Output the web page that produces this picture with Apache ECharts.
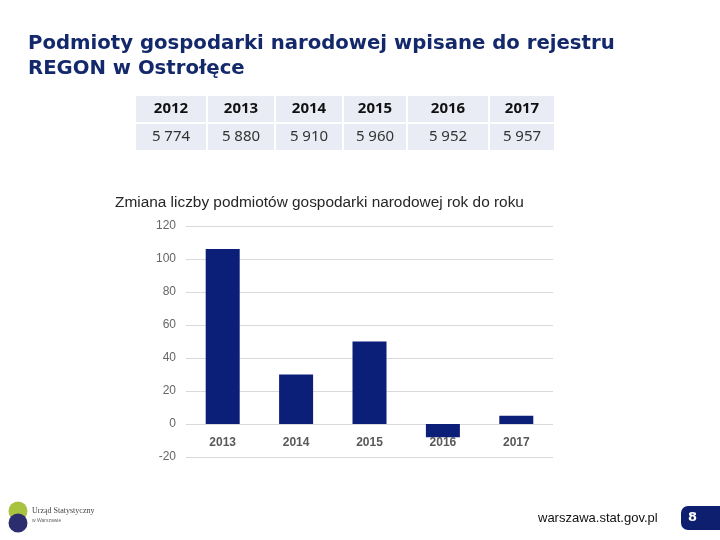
<!DOCTYPE html>
<html>
<head>
<meta charset="utf-8">
<script src="https://cdn.jsdelivr.net/npm/echarts@6/dist/echarts.min.js"></script>
<style>
html,body{margin:0;padding:0;background:#fff;}
#chart{width:720px;height:540px;}
</style>
</head>
<body>
<div id="chart"></div>
<script>
const titleLines = ['Podmioty gospodarki narodowej wpisane do rejestru', 'REGON w Ostrołęce'];
const tableYears = ['2012', '2013', '2014', '2015', '2016', '2017'];
const tableCounts = ['5 774', '5 880', '5 910', '5 960', '5 952', '5 957'];
const chartTitle = 'Zmiana liczby podmiotów gospodarki narodowej rok do roku';
const categories = ['2013', '2014', '2015', '2016', '2017'];
const changes = [106, 30, 50, -8, 5];
const footerUrl = 'warszawa.stat.gov.pl';
const pageNumber = '8';

const navy = '#0b1f78';
const colEdges = [136, 208, 276, 344, 408, 490, 556];
const rowEdges = [[96, 122], [124, 150]];

const graphics = [];
titleLines.forEach((t, i) => {
  graphics.push({type:'text', left:28, top:34 + i*25, style:{text:t, font:'bold 19.7px "DejaVu Sans"', fill:'#14296b'}});
});
for (let c = 0; c < tableYears.length; c++) {
  const x0 = colEdges[c], x1 = colEdges[c+1] - 2;
  [[tableYears[c], 'bold 15px "Noto Sans"', '#111'], [tableCounts[c], '15px "Noto Sans"', '#333']].forEach((cell, r) => {
    const [y0, y1] = rowEdges[r];
    graphics.push({type:'rect', shape:{x:x0, y:y0, width:x1-x0, height:y1-y0}, style:{fill:'#e9ecf4'}, z:0});
    graphics.push({type:'text', x:(x0+x1)/2, y:(y0+y1)/2, style:{text:cell[0], font:cell[1], fill:cell[2], align:'center', verticalAlign:'middle'}, z:1});
  });
}
graphics.push({type:'text', left:115, top:195, style:{text:chartTitle, font:'15.4px "Liberation Sans"', fill:'#262626'}});
// footer
graphics.push({type:'circle', shape:{cx:18, cy:511, r:9.5}, style:{fill:'#a9c23f'}});
graphics.push({type:'circle', shape:{cx:18, cy:523, r:9.5}, style:{fill:'#2b2d6e'}});
graphics.push({type:'text', x:32, y:507, style:{text:'Urząd Statystyczny', font:'8px "Liberation Serif"', fill:'#444'}});
graphics.push({type:'text', x:32, y:518, style:{text:'w Warszawie', font:'5px "Liberation Sans"', fill:'#666'}});
graphics.push({type:'text', x:538, y:518, style:{text:footerUrl, font:'13px "Liberation Sans"', fill:'#111', verticalAlign:'middle'}});
graphics.push({type:'rect', shape:{x:681, y:506, width:45, height:24, r:[7,0,0,7]}, style:{fill:'#0d1f6e'}});
graphics.push({type:'text', x:688, y:518, style:{text:pageNumber, font:'bold 13px "DejaVu Sans"', fill:'#fff', verticalAlign:'middle'}});

const chart = echarts.init(document.getElementById('chart'));
chart.setOption({
  backgroundColor:'#fff',
  animation:false,
  graphic: graphics,
  grid:{left:186, right:167, top:226, bottom:83, containLabel:false},
  xAxis:{
    type:'category', data:categories, offset:-33, z:5,
    axisLine:{show:false, onZero:false},
    axisTick:{show:false},
    axisLabel:{margin:13, color:'#595959', fontWeight:'bold', fontSize:12, fontFamily:'"Liberation Sans Narrow", "Liberation Sans", sans-serif'}
  },
  yAxis:{
    type:'value', min:-20, max:120, interval:20,
    axisLine:{show:false}, axisTick:{show:false},
    axisLabel:{margin:10, color:'#666', fontSize:12, fontFamily:'"Liberation Sans", sans-serif'},
    splitLine:{lineStyle:{color:'#d9d9d9'}}
  },
  series:[{type:'bar', data:changes, barWidth:34, itemStyle:{color:navy}}]
});
</script>
</body>
</html>
